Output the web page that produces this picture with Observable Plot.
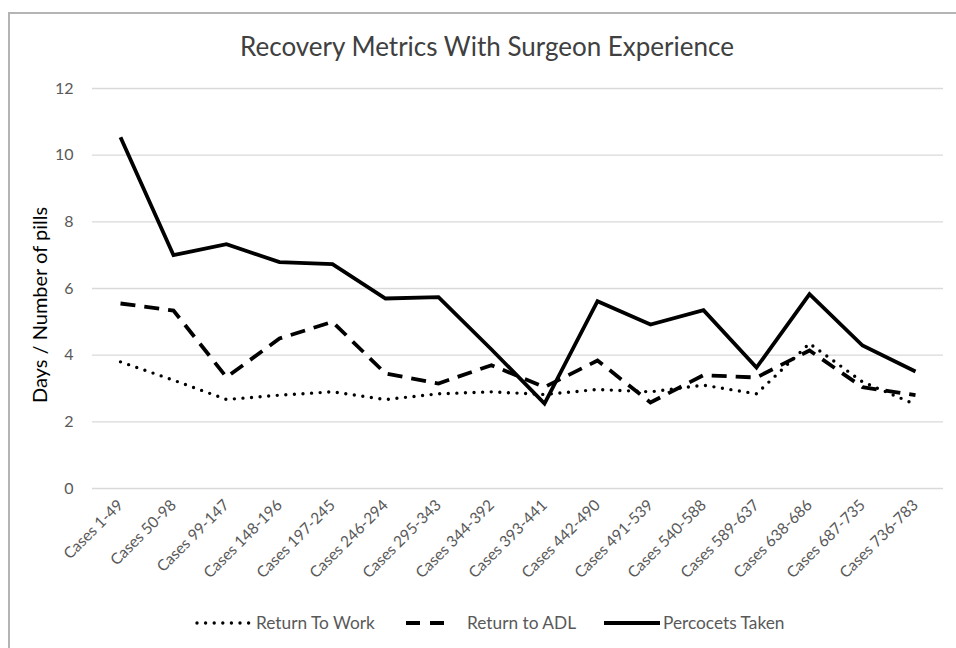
<!DOCTYPE html>
<html><head><meta charset="utf-8">
<script src="https://cdn.jsdelivr.net/npm/d3@7"></script>
<script src="https://cdn.jsdelivr.net/npm/@observablehq/plot@0.6"></script>
<style>
body{margin:0;background:#fff;font-family:Lato,"Open Sans",sans-serif;}
#wrap{position:relative;width:956px;height:648px;overflow:hidden;background:#fff;}
#frame{position:absolute;left:8px;top:12px;width:980px;height:700px;border-top:2px solid #b4b4b4;border-left:2px solid #b4b4b4;pointer-events:none;}
#title{position:absolute;left:0;width:974px;top:30px;text-align:center;font-size:26px;line-height:32px;color:#404040;white-space:nowrap;}
#ylabel{position:absolute;left:39px;top:305px;transform:translate(-50%,-50%) rotate(-90deg);font-size:20px;line-height:24px;color:#000;white-space:nowrap;}
#chart{position:absolute;left:0;top:0;}
#legend{position:absolute;left:0;top:600px;width:956px;height:46px;}
.lg{position:absolute;top:11px;font-size:17.3px;color:#595959;white-space:nowrap;line-height:24px;}
.ls{position:absolute;top:12px;}
</style>
</head><body>
<div id="wrap">
  <div id="chart"></div>
  <div id="title"></div>
  <div id="ylabel"></div>
  <div id="legend"></div>
  <div id="frame"></div>
</div>
<script>
const title = "Recovery Metrics With Surgeon Experience";
const yLabel = "Days / Number of pills";
const categories = ["Cases 1-49","Cases 50-98","Cases 99-147","Cases 148-196","Cases 197-245","Cases 246-294","Cases 295-343","Cases 344-392","Cases 393-441","Cases 442-490","Cases 491-539","Cases 540-588","Cases 589-637","Cases 638-686","Cases 687-735","Cases 736-783"];
const seriesNames = ["Return To Work","Return to ADL","Percocets Taken"];
const returnToWork = [3.8,3.25,2.67,2.8,2.9,2.67,2.84,2.9,2.82,2.97,2.9,3.1,2.84,4.35,3.2,2.52];
const returnToADL = [5.55,5.34,3.34,4.5,5.0,3.45,3.15,3.7,3.04,3.84,2.58,3.4,3.33,4.14,3.04,2.8];
const percocetsTaken = [10.54,7.0,7.33,6.79,6.73,5.7,5.74,4.17,2.55,5.62,4.92,5.35,3.63,5.83,4.29,3.51];
const yTicks = [0,2,4,6,8,10,12];

const seriesValues = [returnToWork, returnToADL, percocetsTaken];
const styles = [
  {strokeWidth:3.4, strokeDasharray:"0,8.6", strokeLinecap:"round"},
  {strokeWidth:3.8, strokeDasharray:"15,9", strokeLinecap:"butt"},
  {strokeWidth:3.8, strokeDasharray:null, strokeLinecap:"butt"}
];
const rows = seriesNames.map((s,i)=>categories.map((c,j)=>({series:s, cat:c, v:seriesValues[i][j]})));

document.getElementById("title").textContent = title;
document.getElementById("ylabel").textContent = yLabel;

const plot = Plot.plot({
  width: 956,
  height: 600,
  marginTop: 88,
  marginBottom: 112,
  marginLeft: 92,
  marginRight: 13,
  style: {fontFamily: "Lato, 'Open Sans', sans-serif", background: "transparent"},
  x: {type: "point", domain: categories, padding: 0.5},
  y: {domain: [0, 12]},
  marks: [
    Plot.ruleY(yTicks, {stroke: "#d9d9d9", strokeWidth: 1.3}),
    Plot.axisY({ticks: yTicks, tickSize: 0, tickPadding: 19, fontSize: 16, fill: "#595959", label: null}),
    Plot.axisX({tickSize: 0, tickPadding: 14, tickRotate: -45, fontSize: 15.5, fill: "#595959", label: null}),
    ...rows.map((r,i)=>Plot.line(r, {x:"cat", y:"v", stroke:"black", strokeWidth:styles[i].strokeWidth,
        strokeDasharray:styles[i].strokeDasharray, strokeLinecap:styles[i].strokeLinecap, strokeLinejoin:"miter", strokeMiterlimit: 4}))
  ]
});
document.getElementById("chart").appendChild(plot);

// legend
const lg = document.getElementById("legend");
const items = [
  {sx:195, sw:52, tx:256},
  {sx:404, sw:42, tx:467},
  {sx:602, sw:56, tx:663}
];
items.forEach((it,i)=>{
  const st = styles[i];
  const svg = `<svg class="ls" style="left:${it.sx}px" width="${it.sw+4}" height="22"><line x1="2" x2="${it.sw+2}" y1="11" y2="11" stroke="black" stroke-width="${st.strokeWidth}" ${st.strokeDasharray?`stroke-dasharray="${i===1?"14,10":st.strokeDasharray}"`:""} stroke-linecap="${st.strokeLinecap}"/></svg>`;
  lg.insertAdjacentHTML("beforeend", svg + `<div class="lg" style="left:${it.tx}px">${seriesNames[i]}</div>`);
});
</script>
</body></html>
